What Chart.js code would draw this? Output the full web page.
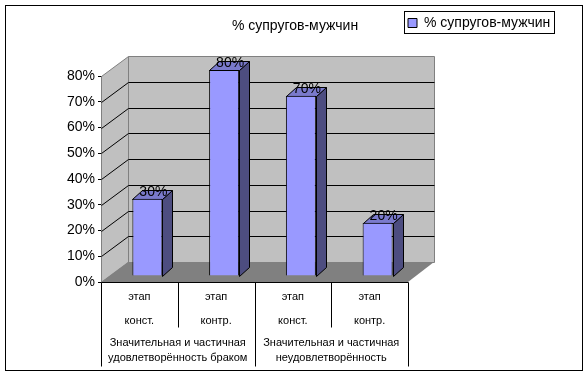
<!DOCTYPE html>
<html>
<head>
<meta charset="utf-8">
<style>
  html, body { margin: 0; padding: 0; background: #fff; }
  #wrap { width: 588px; height: 376px; }
</style>
<script src="https://cdn.jsdelivr.net/npm/chart.js@4/dist/chart.umd.min.js"></script>
</head>
<body>
<div id="wrap"><canvas id="chart" width="588" height="376"></canvas></div>
<script>
const seriesName = "% супругов-мужчин";
const stages = [["этап", "конст."], ["этап", "контр."], ["этап", "конст."], ["этап", "контр."]];
const values = [30, 80, 70, 20.7];
const valueLabels = ["30%", "80%", "70%", "20%"];
const groupLines = [
    ["Значительная и частичная", "удовлетворённость браком"],
    ["Значительная и частичная", "неудовлетворённость"]
];

const font = "Liberation Sans";
const depthX = 27, depthY = 20;      // сдвиг задней стенки
const barShiftX = 8, barShiftY = 6;  // столбцы стоят внутри пола
const sideX = 10, sideY = 9;         // глубина самих столбцов

function poly(ctx, pts, fill, stroke) {
    ctx.beginPath();
    pts.forEach((p, i) => i ? ctx.lineTo(p[0], p[1]) : ctx.moveTo(p[0], p[1]));
    ctx.closePath();
    if (fill) { ctx.fillStyle = fill; ctx.fill(); }
    if (stroke) { ctx.strokeStyle = stroke; ctx.lineWidth = 1; ctx.stroke(); }
}

function line(ctx, x1, y1, x2, y2, color) {
    ctx.beginPath();
    ctx.moveTo(Math.round(x1) + 0.5, Math.round(y1) + 0.5);
    ctx.lineTo(Math.round(x2) + 0.5, Math.round(y2) + 0.5);
    ctx.strokeStyle = color;
    ctx.lineWidth = 1;
    ctx.stroke();
}

const box3d = {
    id: "box3d",
    afterLayout(chart) {
        // заголовок по центру всего рисунка, легенда в правом верхнем углу
        const t = chart.titleBlock;
        t.left = 0; t.right = 590; t.width = 590;
        const l = chart.legend;
        l.left = 404; l.right = 555; l.top = 12; l.bottom = 35; l.width = 151; l.height = 23;
    },
    beforeDraw(chart) {
        const ctx = chart.ctx;
        ctx.save();
        ctx.fillStyle = "#fff";
        ctx.fillRect(0, 0, 588, 376);
        ctx.strokeStyle = "#000";
        ctx.lineWidth = 1;
        ctx.strokeRect(5.5, 5.5, 577, 365);
        ctx.strokeRect(404.5, 11.5, 150, 22);
        ctx.restore();
    },
    beforeDatasetsDraw(chart) {
        const ctx = chart.ctx, a = chart.chartArea, y = chart.scales.y;
        const top = y.getPixelForValue(80), bottom = y.getPixelForValue(0);
        ctx.save();
        // левая стенка, задняя стенка, пол
        poly(ctx, [[a.left + 0.5, top + 0.5], [a.left + depthX + 0.5, top - depthY + 0.5], [a.left + depthX + 0.5, bottom - depthY + 0.5], [a.left + 0.5, bottom + 0.5]], "#c0c0c0", "#808080");
        poly(ctx, [[a.left + depthX + 0.5, top - depthY + 0.5], [a.right + depthX - 1 + 0.5, top - depthY + 0.5], [a.right + depthX - 1 + 0.5, bottom - depthY + 0.5], [a.left + depthX + 0.5, bottom - depthY + 0.5]], "#c0c0c0", "#808080");
        poly(ctx, [[a.left, bottom], [a.left + depthX, bottom - depthY], [a.right + depthX - 1, bottom - depthY], [a.right, bottom]], "#808080");
        // линии сетки
        y.ticks.forEach(t => {
            if (t.value === 0 || t.value === 80) return;
            const py = y.getPixelForValue(t.value);
            line(ctx, a.left, py, a.left + depthX, py - depthY, "#000");
            line(ctx, a.left + depthX, py - depthY, a.right + depthX - 1, py - depthY, "#000");
        });
        // грани столбцов
        ctx.translate(barShiftX, -barShiftY);
        chart.getDatasetMeta(0).data.forEach(bar => {
            const x1 = Math.round(bar.x - bar.width / 2) + 0.5, x2 = x1 + Math.round(bar.width);
            const yt = Math.round(bar.y) + 0.5, yb = Math.round(bar.base) + 0.5;
            poly(ctx, [[x2, yt], [x2 + sideX, yt - sideY], [x2 + sideX, yb - sideY], [x2, yb]], "#4d4d80", "#000");
            poly(ctx, [[x1, yt], [x1 + sideX, yt - sideY], [x2 + sideX, yt - sideY], [x2, yt]], "#7a7acc", "#000");
        });
    },
    afterDatasetsDraw(chart) {
        const ctx = chart.ctx;
        ctx.restore();
        const x = chart.scales.x, a = chart.chartArea, bottom = a.bottom;
        ctx.save();
        // подписи значений над столбцами
        ctx.font = "14px '" + font + "'";
        ctx.fillStyle = "#000";
        ctx.textAlign = "center";
        ctx.textBaseline = "middle";
        chart.getDatasetMeta(0).data.forEach((bar, i) => {
            ctx.fillText(valueLabels[i], bar.x + barShiftX + sideX / 2 + 1, bar.y - barShiftY - sideY + 2);
        });
        // разделители многоуровневой оси
        const step = x.getPixelForTick(1) - x.getPixelForTick(0);
        line(ctx, a.left, bottom, a.right, bottom, "#000");
        stages.forEach((s, i) => {
            const edge = x.getPixelForTick(i) - step / 2;
            line(ctx, edge, bottom, edge, i % 2 ? bottom + 45 : bottom + 84, "#000");
        });
        line(ctx, a.right, bottom, a.right, bottom + 84, "#000");
        // подписи групп
        ctx.font = "11px '" + font + "'";
        groupLines.forEach((g, i) => {
            const cx = (x.getPixelForTick(i * 2) + x.getPixelForTick(i * 2 + 1)) / 2;
            ctx.fillText(g[0], cx, bottom + 61);
            ctx.fillText(g[1], cx, bottom + 76);
        });
        ctx.restore();
    }
};

new Chart(document.getElementById("chart"), {
    type: "bar",
    data: {
        labels: stages,
        datasets: [{
            label: seriesName,
            data: values,
            backgroundColor: "#9999ff",
            borderColor: "#000",
            borderWidth: 1,
            barPercentage: 30 / 76.75,
            categoryPercentage: 1
        }]
    },
    options: {
        responsive: false,
        animation: false,
        layout: { padding: { left: 5, top: 5, right: 180, bottom: 0 } },
        scales: {
            x: {
                afterFit: s => { s.height = 94; },
                grid: { display: false },
                border: { display: false },
                ticks: {
                    color: "#000",
                    maxRotation: 0,
                    autoSkip: false,
                    padding: -5,
                    font: { family: font, size: 11, lineHeight: "24px" }
                }
            },
            y: {
                min: 0,
                max: 80,
                afterFit: s => { s.width = 96; },
                border: { display: true, color: "#000" },
                grid: { drawOnChartArea: false, drawTicks: true, tickLength: 3, color: "#000" },
                ticks: {
                    stepSize: 10,
                    color: "#000",
                    padding: 3,
                    font: { family: font, size: 14 }, 
                    callback: v => v + "%"
                }
            }
        },
        plugins: {
            tooltip: { enabled: false },
            title: {
                display: true,
                text: seriesName,
                color: "#000",
                padding: { top: 14, bottom: 43 },
                font: { family: font, size: 14, weight: "normal", lineHeight: "14px" }
            },
            legend: {
                position: "chartArea",
                align: "start",
                labels: {
                    color: "#000",
                    boxWidth: 9,
                    boxHeight: 9,
                    padding: 4,
                    font: { family: font, size: 14 }
                }
            }
        }
    },
    plugins: [box3d]
});
</script>
</body>
</html>
